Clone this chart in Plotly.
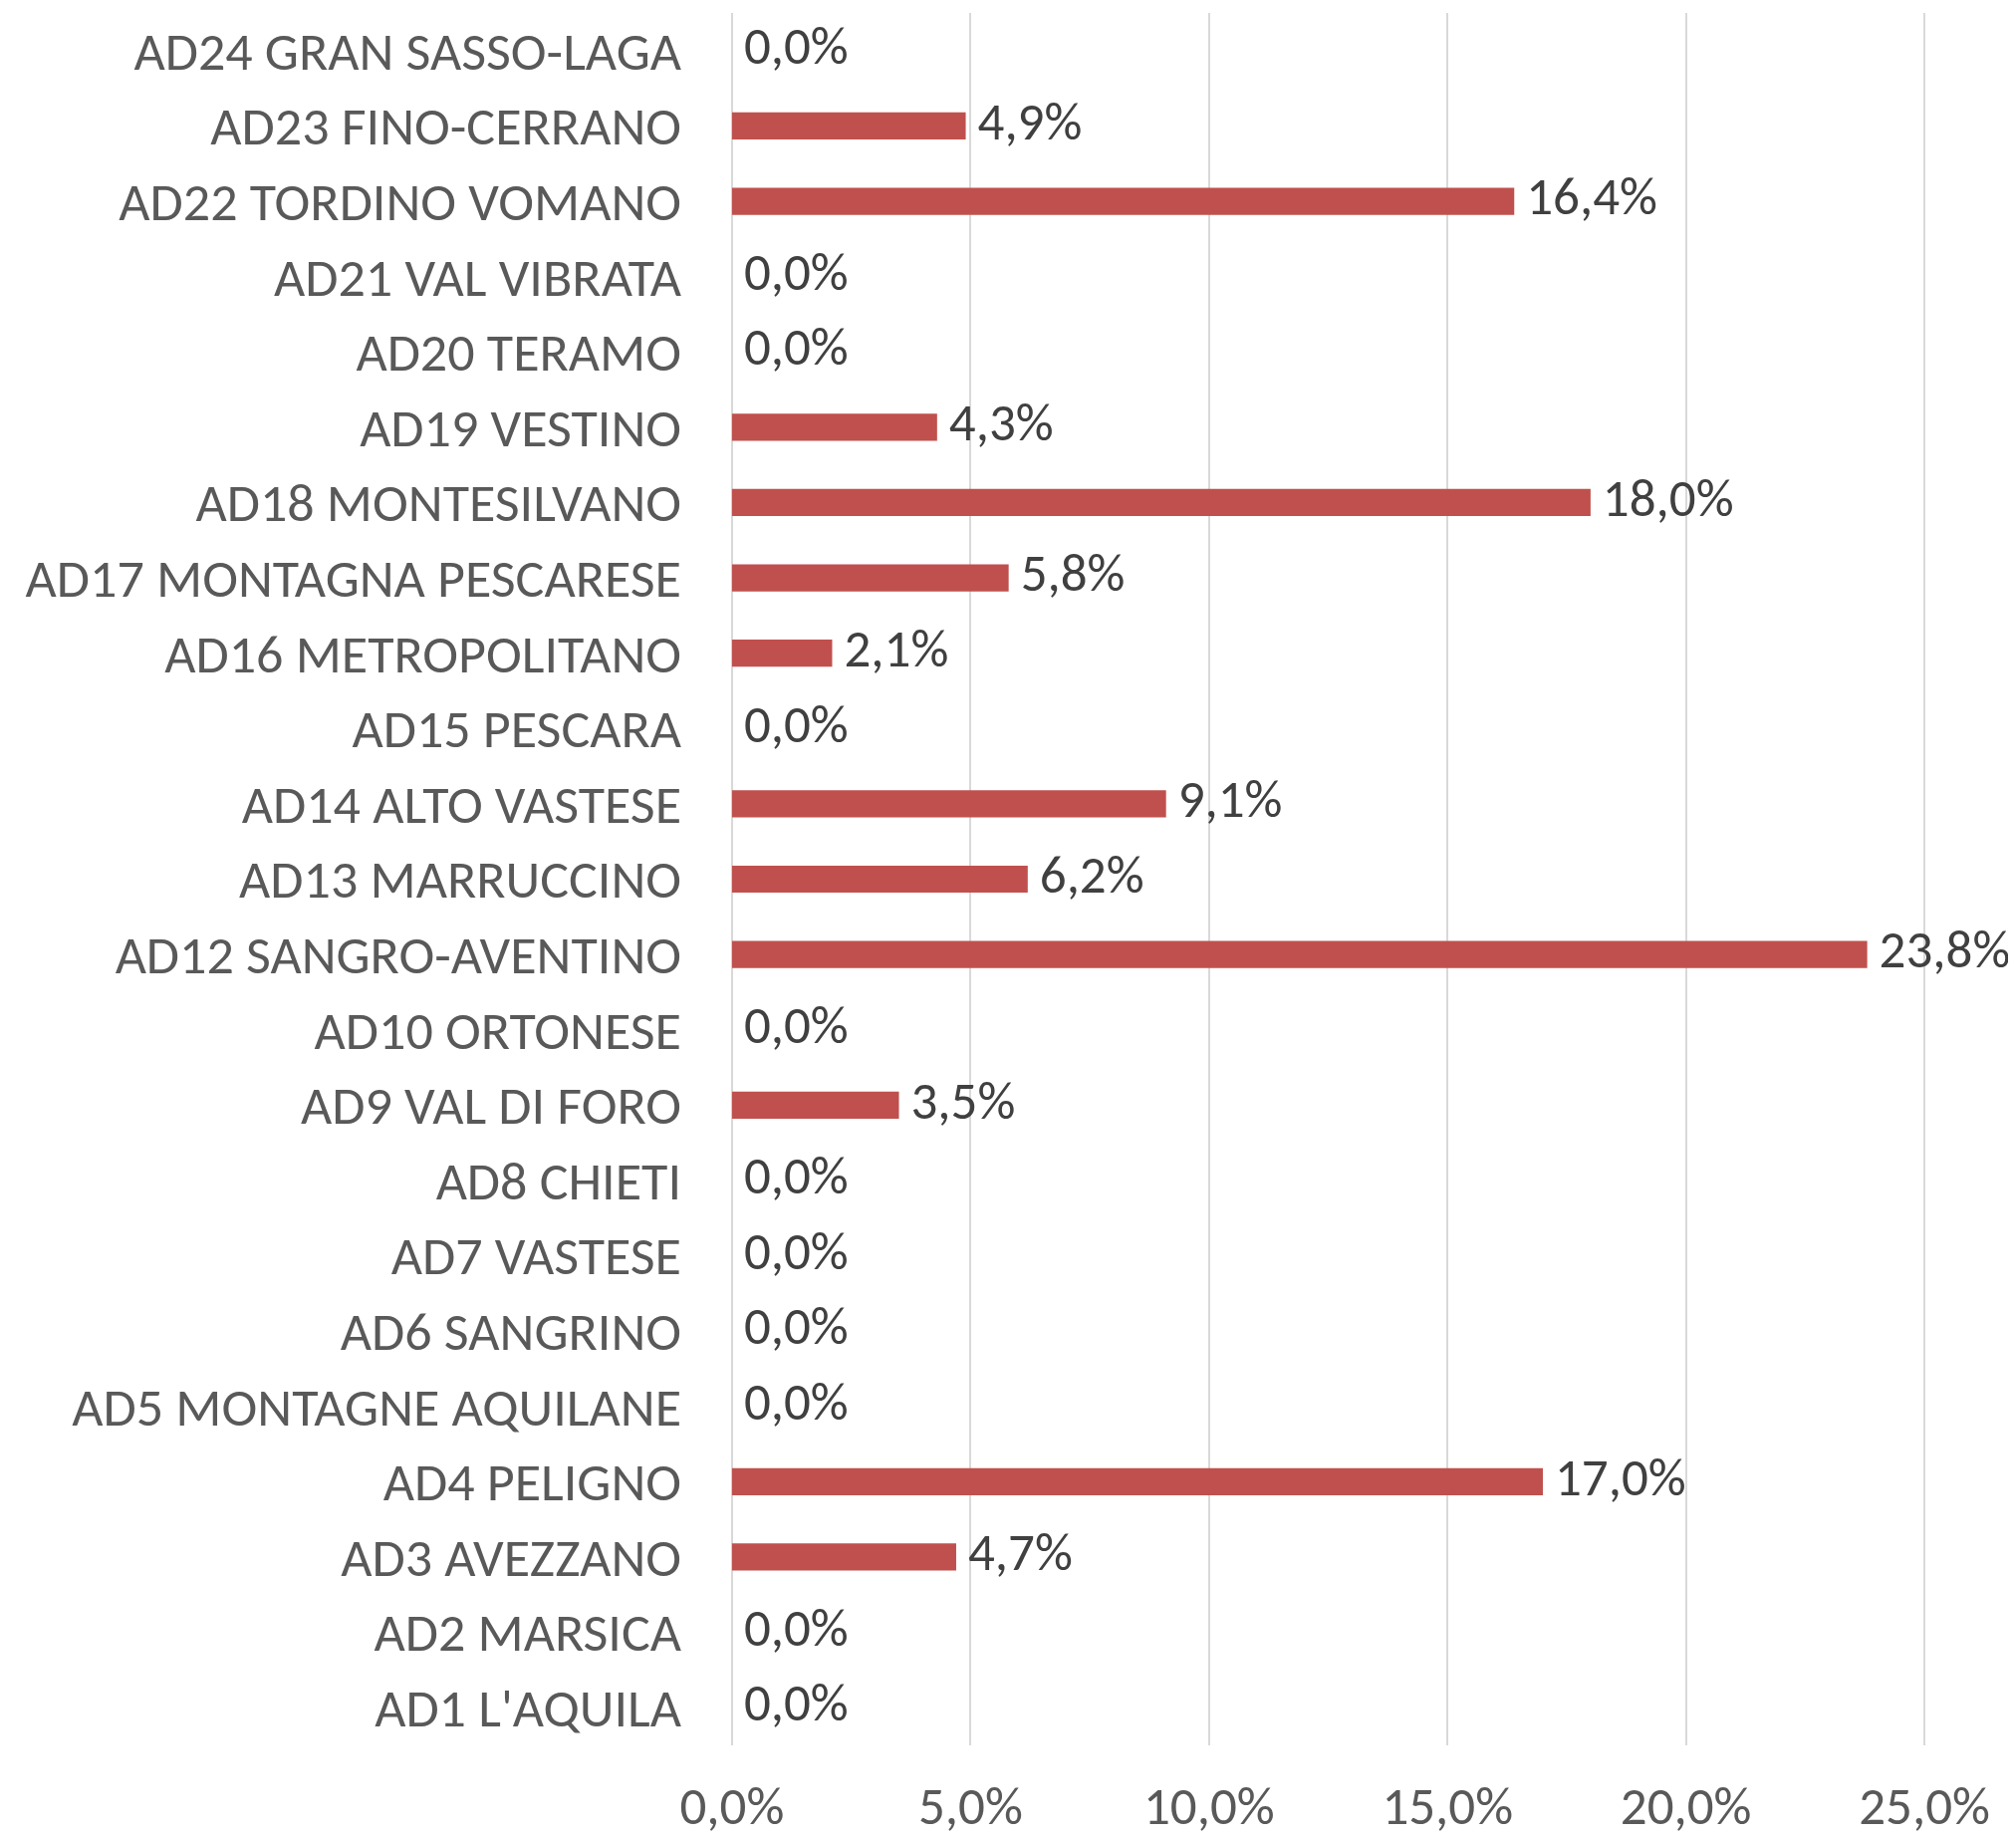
import plotly.graph_objects as go

categories = ["AD1 L'AQUILA", "AD2 MARSICA", "AD3 AVEZZANO", "AD4 PELIGNO",
              "AD5 MONTAGNE AQUILANE", "AD6 SANGRINO", "AD7 VASTESE", "AD8 CHIETI",
              "AD9 VAL DI FORO", "AD10 ORTONESE", "AD12 SANGRO-AVENTINO",
              "AD13 MARRUCCINO", "AD14 ALTO VASTESE", "AD15 PESCARA",
              "AD16 METROPOLITANO", "AD17 MONTAGNA PESCARESE", "AD18 MONTESILVANO",
              "AD19 VESTINO", "AD20 TERAMO", "AD21 VAL VIBRATA", "AD22 TORDINO VOMANO",
              "AD23 FINO-CERRANO", "AD24 GRAN SASSO-LAGA"]
values = [0.0, 0.0, 4.7, 17.0, 0.0, 0.0, 0.0, 0.0, 3.5, 0.0, 23.8, 6.2, 9.1, 0.0,
          2.1, 5.8, 18.0, 4.3, 0.0, 0.0, 16.4, 4.9, 0.0]
tick_vals = [0, 5, 10, 15, 20, 25]

labels = [f"{v:.1f}%".replace(".", ",") for v in values]
FONT = "Carlito, 'Open Sans', sans-serif"
FS = 53

fig = go.Figure()
fig.add_trace(go.Bar(
    x=values, y=categories, orientation="h",
    marker=dict(color="#C0504D", line=dict(width=0)),
    width=0.36, hoverinfo="skip",
))
fig.add_trace(go.Scatter(
    x=values, y=categories, mode="text", text=[" " + t for t in labels],
    textposition="middle right",
    textfont=dict(family=FONT, size=FS, color="#404040"),
    cliponaxis=False, hoverinfo="skip",
))

# page body has an 8px margin, so the figure is 8px smaller and margins shifted
fig.update_layout(
    width=2016, height=1837,
    margin=dict(l=725, r=90, t=5, b=93, autoexpand=False),
    paper_bgcolor="white", plot_bgcolor="white",
    showlegend=False, separators=",.",
    font=dict(family=FONT, size=FS, color="#595959"),
)
fig.update_xaxes(
    range=[-0.04, 25.04], tickvals=tick_vals,
    ticktext=[f"{v:.1f}%".replace(".", ",") for v in tick_vals],
    showgrid=True, gridcolor="#D9D9D9", gridwidth=2,
    zeroline=False, showline=False, ticks="", automargin=False,
    ticklabelstandoff=25,
    tickfont=dict(family=FONT, size=FS, color="#595959"),
)
fig.update_yaxes(
    type="category", categoryorder="array", categoryarray=categories,
    range=[-0.5, len(categories) - 0.5],
    showgrid=False, zeroline=False, showline=False, ticks="", automargin=False,
    ticklabelstandoff=48,
    tickfont=dict(family=FONT, size=54, color="#595959"),
)

fig.write_html("out.html")
